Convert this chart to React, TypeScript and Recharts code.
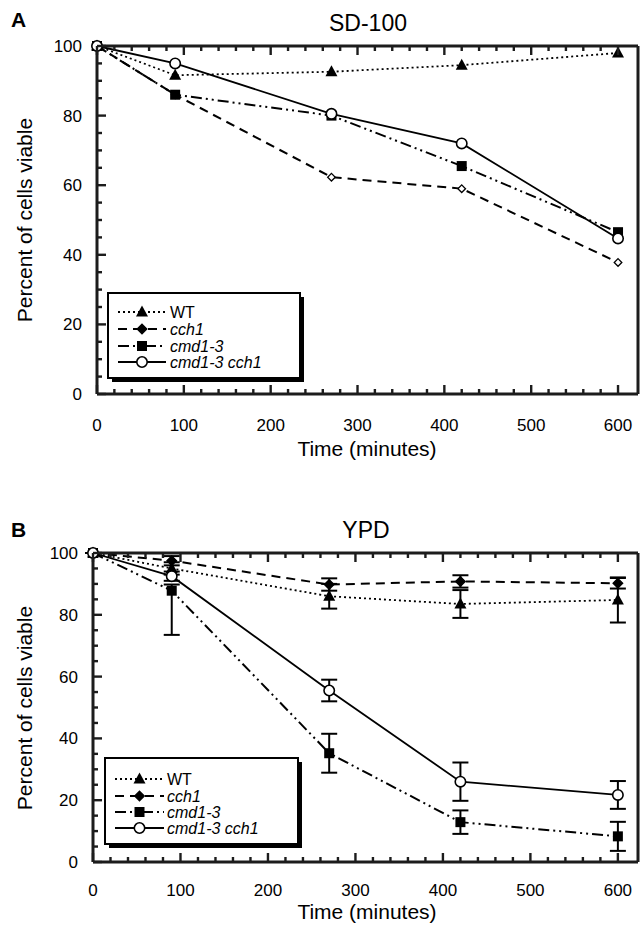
import React from "react";
import { ErrorBar, Line, LineChart, XAxis, YAxis } from "recharts";

// time points (minutes)
const times = [0, 90, 270, 420, 600];

// panel A, SD-100
const sdWT = [100, 91.6, 92.6, 94.5, 98];
const sdCch1 = [100, 86, 62.3, 59, 37.8];
const sdCmd = [100, 86, 80, 65.5, 46.5];
const sdDouble = [100, 95, 80.5, 72, 44.7];

// panel B, YPD (values and error bars, [low, high])
const ypdWT = [100, 95, 86, 83.5, 84.8];
const ypdWTErr = [[0, 0], [2, 2], [4, 4], [4.5, 4.5], [7.3, 7.3]];
const ypdCch1 = [100, 97.5, 89.8, 90.8, 90.2];
const ypdCch1Err = [[0, 0], [1.5, 1.5], [2, 2], [2, 2], [1.7, 1.7]];
const ypdCmd = [100, 87.8, 35.2, 12.9, 8.3];
const ypdCmdErr = [[0, 0], [14.3, 2], [6.3, 6.3], [3.8, 3.8], [4.7, 4.7]];
const ypdDouble = [100, 92.5, 55.5, 26, 21.7];
const ypdDoubleErr = [[0, 0], [1.5, 1.5], [3.5, 3.5], [6.2, 6.2], [4.5, 4.5]];

const xTicks = [
  0, 20, 40, 60, 80, 100, 120, 140, 160, 180, 200, 220, 240, 260, 280, 300,
  320, 340, 360, 380, 400, 420, 440, 460, 480, 500, 520, 540, 560, 580, 600,
];
const yTicks = [0, 5, 10, 15, 20, 25, 30, 35, 40, 45, 50, 55, 60, 65, 70, 75, 80, 85, 90, 95, 100];
const X_MAX = 623;

const FONT = "'Liberation Sans', Arial, Helvetica, sans-serif";
const INK = "#000";
const EDGE = "#1c1c1c";

type Shape = "triangle" | "diamond" | "square" | "circle";

interface SeriesDef {
  key: string;
  name: string;
  italic: boolean;
  dash: string;
  width: number;
  shape: Shape;
}

const SERIES: SeriesDef[] = [
  { key: "wt", name: "WT", italic: false, dash: "2 3", width: 1.8, shape: "triangle" },
  { key: "cch1", name: "cch1", italic: true, dash: "9 6", width: 2, shape: "diamond" },
  { key: "cmd", name: "cmd1-3", italic: true, dash: "11 4 2 4 2 4", width: 2, shape: "square" },
  { key: "dbl", name: "cmd1-3 cch1", italic: true, dash: "", width: 1.8, shape: "circle" },
];

const sdRows = times.map((t, i) => ({
  t,
  wt: sdWT[i],
  cch1: sdCch1[i],
  cmd: sdCmd[i],
  dbl: sdDouble[i],
}));

const ypdRows = times.map((t, i) => ({
  t,
  wt: ypdWT[i],
  wtErr: ypdWTErr[i],
  cch1: ypdCch1[i],
  cch1Err: ypdCch1Err[i],
  cmd: ypdCmd[i],
  cmdErr: ypdCmdErr[i],
  dbl: ypdDouble[i],
  dblErr: ypdDoubleErr[i],
}));

function Marker({ shape, cx, cy, hollow }: { shape: Shape; cx: number; cy: number; hollow?: boolean }) {
  if (shape === "triangle") {
    return <polygon points={`${cx},${cy - 6.5} ${cx - 6},${cy + 4.5} ${cx + 6},${cy + 4.5}`} fill={INK} />;
  }
  if (shape === "square") {
    return <rect x={cx - 5} y={cy - 5} width={10} height={10} fill={INK} />;
  }
  if (shape === "circle") {
    return <circle cx={cx} cy={cy} r={5.2} fill="#fff" stroke={INK} strokeWidth={1.6} />;
  }
  const s = hollow ? 3.8 : 4.8;
  return (
    <polygon
      points={`${cx},${cy - s} ${cx + s},${cy} ${cx},${cy + s} ${cx - s},${cy}`}
      fill={hollow ? "#fff" : INK}
      stroke={INK}
      strokeWidth={1.3}
    />
  );
}

// inward tick marks drawn by the axes themselves (majors every 100 min / 20 %)
const tickLen = (major: boolean) => (major ? 9 : 5);

const bottomTick = (labelDy: number) => (p: any) => {
  const v = p.payload.value;
  const major = v % 100 === 0;
  return (
    <g>
      <path d={`M${p.x},${p.y}L${p.x},${p.y - tickLen(major)}`} stroke={EDGE} strokeWidth={2.4} fill="none" />
      {major && (
        <text x={p.x} y={p.y + labelDy} textAnchor="middle" fontSize={17} fontFamily={FONT} fill={INK}>
          {v}
        </text>
      )}
    </g>
  );
};

const topTick = (p: any) => {
  const major = p.payload.value % 100 === 0;
  return <path d={`M${p.x},${p.y}L${p.x},${p.y + tickLen(major)}`} stroke={EDGE} strokeWidth={2.4} fill="none" />;
};

const leftTick = (p: any) => {
  const v = p.payload.value;
  const major = v % 20 === 0;
  return (
    <g>
      <path d={`M${p.x},${p.y}L${p.x + tickLen(major)},${p.y}`} stroke={EDGE} strokeWidth={2.4} fill="none" />
      {major && (
        <text x={p.x - 15} y={p.y + 6} textAnchor="end" fontSize={17} fontFamily={FONT} fill={INK}>
          {v}
        </text>
      )}
    </g>
  );
};

const rightTick = (p: any) => {
  const major = p.payload.value % 20 === 0;
  return <path d={`M${p.x},${p.y}L${p.x - tickLen(major)},${p.y}`} stroke={EDGE} strokeWidth={2.4} fill="none" />;
};

const frame = { stroke: EDGE, strokeWidth: 3 };

function Panel({
  rows,
  top,
  marginTop,
  marginBottom,
  leftW,
  labelDy,
  withErrors,
  hollowDiamond,
}: {
  rows: any[];
  top: number;
  marginTop: number;
  marginBottom: number;
  leftW: number;
  labelDy: number;
  withErrors: boolean;
  hollowDiamond: boolean;
}) {
  return (
    <div style={{ position: "absolute", left: 0, top }}>
      <LineChart width={640} height={450} data={rows} margin={{ top: marginTop, right: 0, bottom: marginBottom, left: 0 }}>
        <XAxis
          dataKey="t"
          type="number"
          domain={[0, X_MAX]}
          ticks={xTicks}
          interval={0}
          height={30}
          tickSize={0}
          tickMargin={0}
          tickLine={false}
          axisLine={frame}
          tick={bottomTick(labelDy)}
        />
        <XAxis
          xAxisId="top"
          orientation="top"
          dataKey="t"
          type="number"
          domain={[0, X_MAX]}
          ticks={xTicks}
          interval={0}
          height={1}
          tickSize={0}
          tickMargin={0}
          tickLine={false}
          axisLine={frame}
          tick={topTick}
        />
        <YAxis
          type="number"
          domain={[0, 100]}
          ticks={yTicks}
          interval={0}
          width={leftW}
          tickSize={0}
          tickMargin={0}
          tickLine={false}
          axisLine={frame}
          tick={leftTick}
        />
        <YAxis
          yAxisId="right"
          orientation="right"
          type="number"
          domain={[0, 100]}
          ticks={yTicks}
          interval={0}
          width={2}
          tickSize={0}
          tickMargin={0}
          tickLine={false}
          axisLine={frame}
          tick={rightTick}
        />
        {SERIES.map((s) => (
          <Line
            key={s.key}
            type="linear"
            dataKey={s.key}
            stroke={INK}
            strokeWidth={s.width}
            strokeDasharray={s.dash || undefined}
            isAnimationActive={false}
            dot={(p: any) => (
              <Marker
                key={`${s.key}-${p.index}`}
                shape={s.shape}
                cx={p.cx}
                cy={p.cy}
                hollow={hollowDiamond}
              />
            )}
            activeDot={false}
          >
            {withErrors && (
              <ErrorBar dataKey={`${s.key}Err`} width={8} stroke={INK} strokeWidth={2} direction="y" />
            )}
          </Line>
        ))}
      </LineChart>
    </div>
  );
}

function LegendBox({ x, y, w, h, rows, textX, lineX0, lineX1 }: any) {
  const markX = (lineX0 + lineX1) / 2;
  return (
    <g>
      <rect x={x + 4} y={y + 4} width={w} height={h} fill={INK} />
      <rect x={x} y={y} width={w} height={h} fill="#fff" stroke={INK} strokeWidth={2} />
      {SERIES.map((s, i) => (
        <g key={s.key}>
          <line
            x1={lineX0}
            x2={lineX1}
            y1={rows[i]}
            y2={rows[i]}
            stroke={INK}
            strokeWidth={s.width}
            strokeDasharray={s.dash || undefined}
          />
          <Marker shape={s.shape} cx={markX} cy={rows[i]} />
          <text
            x={textX}
            y={rows[i] + 5.5}
            fontSize={16}
            fontFamily={FONT}
            fontStyle={s.italic ? "italic" : "normal"}
            fill={INK}
          >
            {s.name}
          </text>
        </g>
      ))}
    </g>
  );
}

export default function App() {
  return (
    <div style={{ position: "absolute", left: 0, top: 0, width: 640, height: 925, background: "#fff", fontFamily: FONT }}>
      <Panel rows={sdRows} top={0} marginTop={45} marginBottom={26} leftW={97} labelDy={37} withErrors={false} hollowDiamond />
      <Panel rows={ypdRows} top={470} marginTop={82} marginBottom={28} leftW={93} labelDy={34} withErrors hollowDiamond={false} />
      <svg width={640} height={925} style={{ position: "absolute", left: 0, top: 0, pointerEvents: "none" }}>
        <text x={11} y={27} fontSize={21} fontWeight="bold" fontFamily={FONT}>A</text>
        <text x={368} y={31} fontSize={23} textAnchor="middle" fontFamily={FONT}>SD-100</text>
        <text transform="translate(32,220) rotate(-90)" fontSize={21} textAnchor="middle" fontFamily={FONT}>
          Percent of cells viable
        </text>
        <text x={367} y={456} fontSize={21} textAnchor="middle" fontFamily={FONT}>Time (minutes)</text>
        <LegendBox x={108} y={293} w={192} h={85} rows={[312, 329, 346, 362]} textX={170} lineX0={118} lineX1={166} />

        <text x={11} y={537} fontSize={21} fontWeight="bold" fontFamily={FONT}>B</text>
        <text x={366} y={538} fontSize={23} textAnchor="middle" fontFamily={FONT}>YPD</text>
        <text transform="translate(32,708) rotate(-90)" fontSize={21} textAnchor="middle" fontFamily={FONT}>
          Percent of cells viable
        </text>
        <text x={367} y={919} fontSize={21} textAnchor="middle" fontFamily={FONT}>Time (minutes)</text>
        <LegendBox x={105} y={758} w={193} h={86} rows={[779, 796, 812, 828]} textX={167} lineX0={115} lineX1={164} />
      </svg>
    </div>
  );
}
